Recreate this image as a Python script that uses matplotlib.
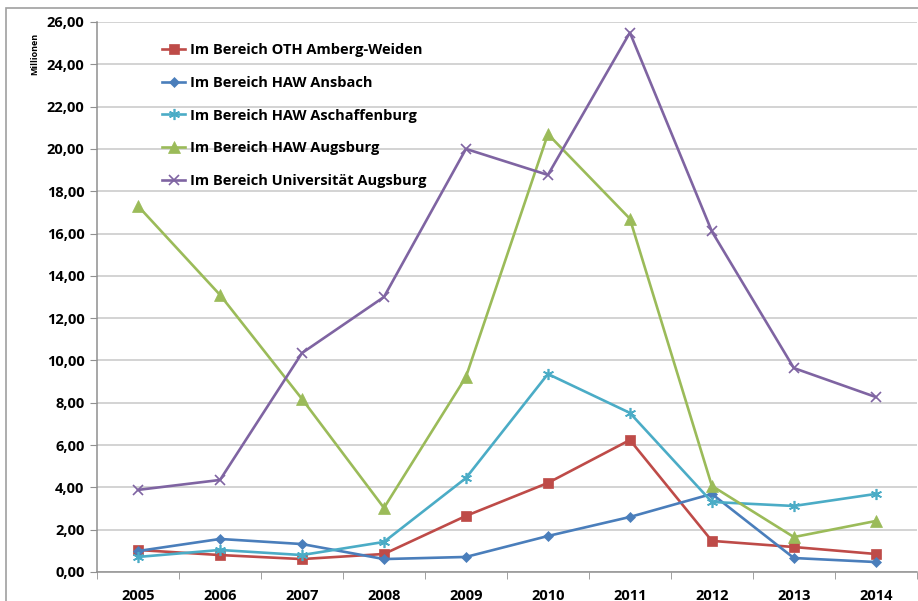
import matplotlib
matplotlib.use("Agg")
import matplotlib.pyplot as plt
from matplotlib.patches import Rectangle
from matplotlib.ticker import FuncFormatter

# Daten (Millionen)
years = ["2005", "2006", "2007", "2008", "2009", "2010", "2011", "2012", "2013", "2014"]
oth_amberg_weiden = [1.04, 0.80, 0.61, 0.85, 2.65, 4.21, 6.24, 1.47, 1.18, 0.85]
haw_ansbach = [0.99, 1.56, 1.32, 0.61, 0.71, 1.70, 2.60, 3.69, 0.66, 0.47]
haw_aschaffenburg = [0.71, 1.04, 0.80, 1.42, 4.44, 9.36, 7.52, 3.31, 3.12, 3.69]
haw_augsburg = [17.30, 13.10, 8.18, 3.03, 9.22, 20.70, 16.70, 4.07, 1.65, 2.41]
uni_augsburg = [3.88, 4.35, 10.35, 13.00, 20.00, 18.77, 25.50, 16.10, 9.64, 8.27]

series = [
    ("Im Bereich OTH Amberg-Weiden", oth_amberg_weiden, "#BE4B48", "s", 7),
    ("Im Bereich HAW Ansbach", haw_ansbach, "#4A7EBB", "D", 5.5),
    ("Im Bereich HAW Aschaffenburg", haw_aschaffenburg, "#4BACC6", (6, 2, 0), 8),
    ("Im Bereich HAW Augsburg", haw_augsburg, "#9BBB59", "^", 8),
    ("Im Bereich Universität Augsburg", uni_augsburg, "#7F64A2", "x", 7),
]

plt.rcParams["font.family"] = ["Open Sans", "DejaVu Sans"]
plt.rcParams["font.weight"] = "bold"

fig = plt.figure(figsize=(9.18, 6.01), dpi=100)
ax = fig.add_axes([0.1057, 0.0483, 0.893, 0.9151])

# äußerer Rahmen des Diagrammbereichs
fig.patches.append(Rectangle((6 / 918, -0.05), 1.2, 1 - 8 / 601 + 0.05,
                             transform=fig.transFigure, fill=False,
                             edgecolor="#a0a0a0", linewidth=1.2))

x = list(range(len(years)))
for label, vals, color, marker, ms in series:
    ax.plot(x, vals, color=color, marker=marker, markersize=ms, linewidth=1.9,
            markeredgewidth=1.2 if marker in ("x", (6, 2, 0)) else 0.5,
            markeredgecolor=color, label=label)

ax.set_xlim(-0.5, len(years) - 0.5)
ax.set_ylim(0, 26)
ax.set_yticks([i * 2 for i in range(14)])
ax.yaxis.set_major_formatter(FuncFormatter(lambda v, p: f"{v:.2f}".replace(".", ",")))
ax.set_xticks(x)
ax.set_xticklabels(years)
ax.set_xticks([i - 0.5 for i in range(len(years) + 1)], minor=True)
ax.tick_params(axis="x", which="major", length=0, pad=12, labelsize=10.5)
ax.tick_params(axis="x", which="minor", length=5, color="#909090")
ax.tick_params(axis="y", length=5, color="#909090", labelsize=10.5, pad=4)
ax.grid(axis="y", color="#c8c8c8", linewidth=1.1)
ax.set_axisbelow(True)
for side in ("top", "right"):
    ax.spines[side].set_visible(False)
for side in ("left", "bottom"):
    ax.spines[side].set_color("#909090")
    ax.spines[side].set_linewidth(1.1)

fig.text(0.038, 0.91, "Millionen", rotation=90, fontsize=6.5, ha="center", va="center")

ax.legend(loc="upper left", bbox_to_anchor=(0.072, 0.972), frameon=False,
          fontsize=10.5, handlelength=1.6, handletextpad=0.3, labelspacing=1.28,
          borderaxespad=0)

fig.savefig("out.png", dpi=100)
